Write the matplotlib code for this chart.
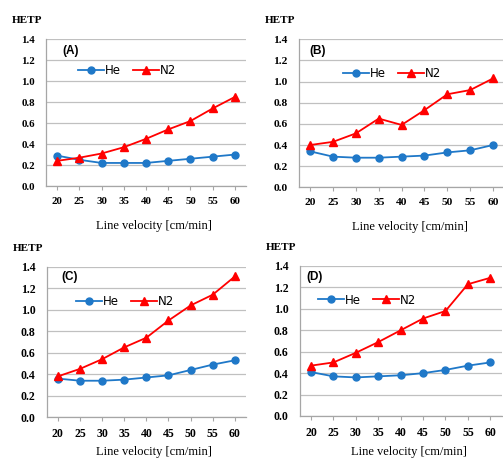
import numpy as np
import matplotlib
matplotlib.use("Agg")
import matplotlib.pyplot as plt

# line velocity categories [cm/min]
velocity = ["20", "25", "30", "35", "40", "45", "50", "55", "60"]

# HETP values
he_a = [0.29, 0.25, 0.22, 0.22, 0.22, 0.24, 0.26, 0.28, 0.30]
n2_a = [0.24, 0.27, 0.31, 0.37, 0.45, 0.54, 0.62, 0.74, 0.85]

he_b = [0.34, 0.29, 0.28, 0.28, 0.29, 0.30, 0.33, 0.35, 0.40]
n2_b = [0.40, 0.43, 0.51, 0.65, 0.59, 0.73, 0.88, 0.92, 1.03]

he_c = [0.36, 0.34, 0.34, 0.35, 0.37, 0.39, 0.44, 0.49, 0.53]
n2_c = [0.38, 0.45, 0.54, 0.65, 0.74, 0.90, 1.04, 1.14, 1.31]

he_d = [0.41, 0.37, 0.36, 0.37, 0.38, 0.40, 0.43, 0.47, 0.50]
n2_d = [0.47, 0.50, 0.59, 0.69, 0.80, 0.91, 0.98, 1.23, 1.29]

W, H = 503, 459
fig = plt.figure(figsize=(W / 100, H / 100), dpi=100)

BLUE = "#1f78c8"
RED = "#ff0000"
GRID = "#c0c0c0"

# pixel boxes: left, right, top, bottom ; tag pos ; legend pos ; font size ; xlabel y offset
panels = [
    ("(A)", he_a, n2_a, (46, 246, 39.3, 186), (0.125, 0.92), (0.17, 0.784), 7.8, 40),
    ("(B)", he_b, n2_b, (298.7, 504.5, 39.3, 187.3), (0.094, 0.923), (0.225, 0.77), 8.2, 40),
    ("(C)", he_c, n2_c, (46.7, 246, 266.7, 417.3), (0.117, 0.934), (0.157, 0.768), 8.5, 34.5),
    ("(D)", he_d, n2_d, (299.8, 501.5, 266, 416), (0.073, 0.929), (0.10, 0.773), 8.5, 35.5),
]

x = np.arange(len(velocity))

for tag, he, n2, (l, r, t, b), tagpos, legpos, fs, xoff in panels:
    ax = fig.add_axes([l / W, 1 - b / H, (r - l) / W, (b - t) / H])
    ax.plot(x, he, color=BLUE, marker="o", markersize=5, lw=1.3, label="He", clip_on=False)
    ax.plot(x, n2, color=RED, marker="^", markersize=5.5, lw=1.3, label="N2", clip_on=False)
    ax.set_xlim(-0.5, len(velocity) - 0.5)
    ax.set_ylim(0, 1.4)
    ax.set_yticks(np.arange(0, 1.41, 0.2))
    ax.set_yticklabels(["%.1f" % v for v in np.arange(0, 1.41, 0.2)])
    ax.set_xticks(x)
    ax.set_xticklabels(velocity)
    ax.grid(axis="y", color=GRID, lw=0.9)
    ax.set_axisbelow(True)
    for s in ["top", "right"]:
        ax.spines[s].set_visible(False)
    for s in ["left", "bottom"]:
        ax.spines[s].set_color("#a6a6a6")
        ax.spines[s].set_linewidth(0.9)
    ax.tick_params(axis="y", length=0, pad=8, labelsize=fs)
    ax.tick_params(axis="x", length=3, color="#a6a6a6", direction="out", pad=5, labelsize=fs)
    for lab in ax.get_xticklabels() + ax.get_yticklabels():
        lab.set_fontweight("bold")
        lab.set_family("Liberation Serif")
    ax.text(tagpos[0], tagpos[1], tag, transform=ax.transAxes, ha="center", va="center",
            fontsize=8.5, fontweight="bold", family="Liberation Sans")
    ax.legend(loc="center left", bbox_to_anchor=(legpos[0] - 0.01, legpos[1]), ncol=2,
              frameon=False, fontsize=8.5, handlelength=2.2, handletextpad=0.1,
              columnspacing=1.0, borderpad=0, borderaxespad=0)

    # axis titles placed like the original figure
    fig.text((l - 19) / W, 1 - (t - 18.5) / H, "HETP", ha="center", va="center",
             fontsize=8, fontweight="bold", family="Liberation Serif")
    fig.text((l + (r - l) / 2 + 8) / W, 1 - (b + xoff) / H, "Line velocity [cm/min]",
             ha="center", va="center", fontsize=9, family="Liberation Serif")

fig.savefig("out.png", dpi=100)
